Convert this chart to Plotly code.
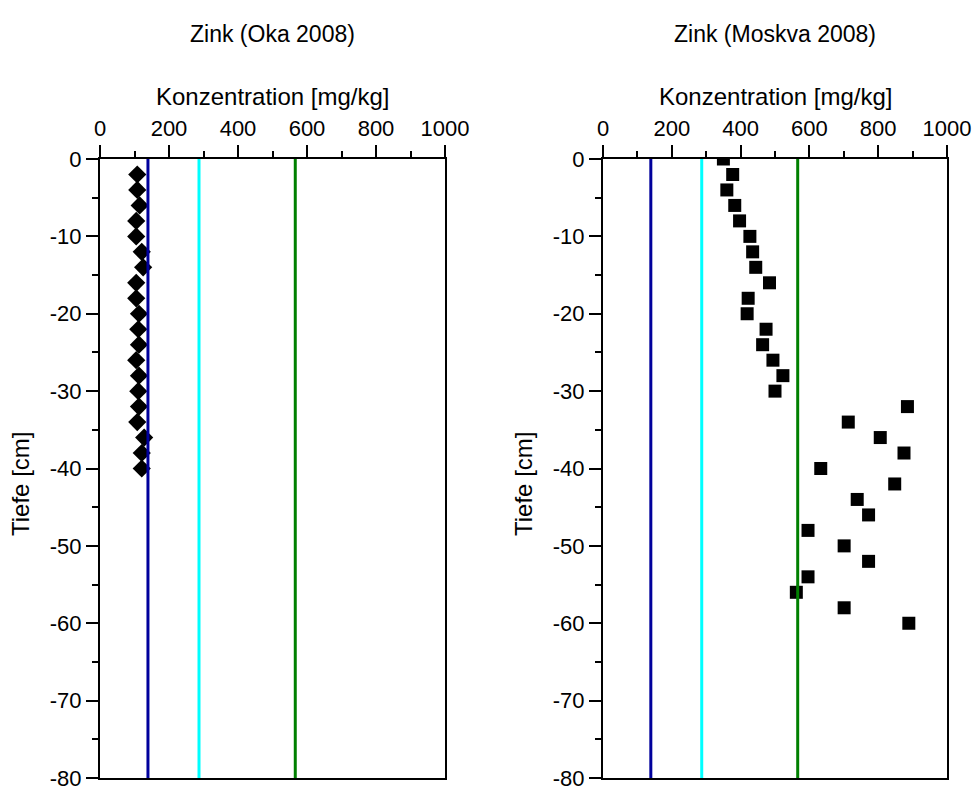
import plotly.graph_objects as go

# ---- data ----
oka_depth = [-2, -4, -6, -8, -10, -12, -14, -16, -18, -20,
             -22, -24, -26, -28, -30, -32, -34, -36, -38, -40]
oka_zn = [108, 108, 115, 105, 105, 121, 125, 105, 105, 113,
          111, 113, 105, 113, 111, 113, 108, 128, 121, 121]

moskva_depth = [0, -2, -4, -6, -8, -10, -12, -14, -16, -18, -20, -22, -24, -26, -28, -30,
                -32, -34, -36, -38, -40, -42, -44, -46, -48, -50, -52, -54, -56, -58, -60]
moskva_zn = [350, 377, 360, 383, 397, 427, 435, 444, 484, 422, 419, 474, 464, 494, 523, 500,
             885, 713, 806, 875, 633, 848, 739, 772, 596, 701, 772, 596, 562, 701, 889]

limit_values = [139, 287, 566]
limit_colors = ["#00009C", "#00FFFF", "#008000"]
depth_span = [0, -80]

x_tickvals = [0, 200, 400, 600, 800, 1000]
x_ticktext = ["0", "200", "400", "600", "800", "1000"]
y_tickvals = [0, -10, -20, -30, -40, -50, -60, -70, -80]
y_ticktext = ["0", "-10", "-20", "-30", "-40", "-50", "-60", "-70", "-80"]

titles = ["Zink (Oka 2008)", "Zink (Moskva 2008)"]
x_title = "Konzentration [mg/kg]"
y_title = "Tiefe [cm]"

FONT = "Arial, Liberation Sans, sans-serif"
W, H = 977, 790

fig = go.Figure()

# markers
fig.add_trace(go.Scatter(x=oka_zn, y=oka_depth, mode="markers", xaxis="x", yaxis="y",
                         marker=dict(symbol="diamond", size=14, color="black"),
                         showlegend=False))
fig.add_trace(go.Scatter(x=moskva_zn, y=moskva_depth, mode="markers", xaxis="x2", yaxis="y2",
                         marker=dict(symbol="square", size=13, color="black"),
                         showlegend=False))

# limit lines (drawn on top)
for xa, ya in [("x", "y"), ("x2", "y2")]:
    for v, c in zip(limit_values, limit_colors):
        fig.add_trace(go.Scatter(x=[v, v], y=depth_span, mode="lines", xaxis=xa, yaxis=ya,
                                 line=dict(color=c, width=3), showlegend=False,
                                 hoverinfo="skip"))

top = 1 - 159 / H
bot = 1 - 778 / H
dom_l = [100 / W, 445 / W]
dom_r = [603 / W, 947 / W]

def xaxis(domain, anchor):
    return dict(domain=domain, anchor=anchor, side="top", range=[0, 1000],
                tickmode="array", tickvals=x_tickvals, ticktext=x_ticktext,
                ticks="outside", ticklen=12, tickwidth=2,
                tickcolor="black", showline=True, linecolor="black", linewidth=2,
                mirror=True, showgrid=False, zeroline=False,
                minor=dict(tick0=0, dtick=100, ticks="outside", ticklen=6, tickwidth=2,
                           tickcolor="black", showgrid=False),
                tickfont=dict(size=22, color="black", family=FONT),
                ticklabeloverflow="allow",
                automargin=False, fixedrange=True)

def yaxis(anchor):
    return dict(domain=[bot, top], anchor=anchor, range=[-80, 0],
                tickmode="array", tickvals=y_tickvals, ticktext=y_ticktext,
                ticks="outside", ticklen=12, tickwidth=2, tickcolor="black",
                showline=True, linecolor="black", linewidth=2, mirror=True,
                showgrid=False, zeroline=False,
                minor=dict(tick0=0, dtick=5, ticks="outside", ticklen=6, tickwidth=2,
                           tickcolor="black", showgrid=False),
                tickfont=dict(size=22, color="black", family=FONT),
                ticklabeloverflow="allow",
                automargin=False, fixedrange=True)

annotations = []
for dom, t in [(dom_l, titles[0]), (dom_r, titles[1])]:
    cx = (dom[0] + dom[1]) / 2
    annotations.append(dict(text=t, x=cx, y=1 - 34 / H, xref="paper", yref="paper",
                            showarrow=False, xanchor="center", yanchor="middle",
                            font=dict(size=23, color="black", family=FONT)))
    annotations.append(dict(text=x_title, x=cx, y=1 - 97 / H, xref="paper", yref="paper",
                            showarrow=False, xanchor="center", yanchor="middle",
                            font=dict(size=24, color="black", family=FONT)))
    annotations.append(dict(text=y_title, x=dom[0] - 80 / W, y=1 - 484 / H,
                            xref="paper", yref="paper", textangle=-90,
                            showarrow=False, xanchor="center", yanchor="middle",
                            font=dict(size=24, color="black", family=FONT)))

fig.update_layout(
    width=W, height=H,
    margin=dict(l=0, r=0, t=0, b=0),
    paper_bgcolor="white", plot_bgcolor="white",
    template="none",
    font=dict(family=FONT, color="black"),
    xaxis=xaxis(dom_l, "y"),
    yaxis=yaxis("x"),
    xaxis2=xaxis(dom_r, "y2"),
    yaxis2=yaxis("x2"),
    annotations=annotations,
)

fig.write_html("out.html")
